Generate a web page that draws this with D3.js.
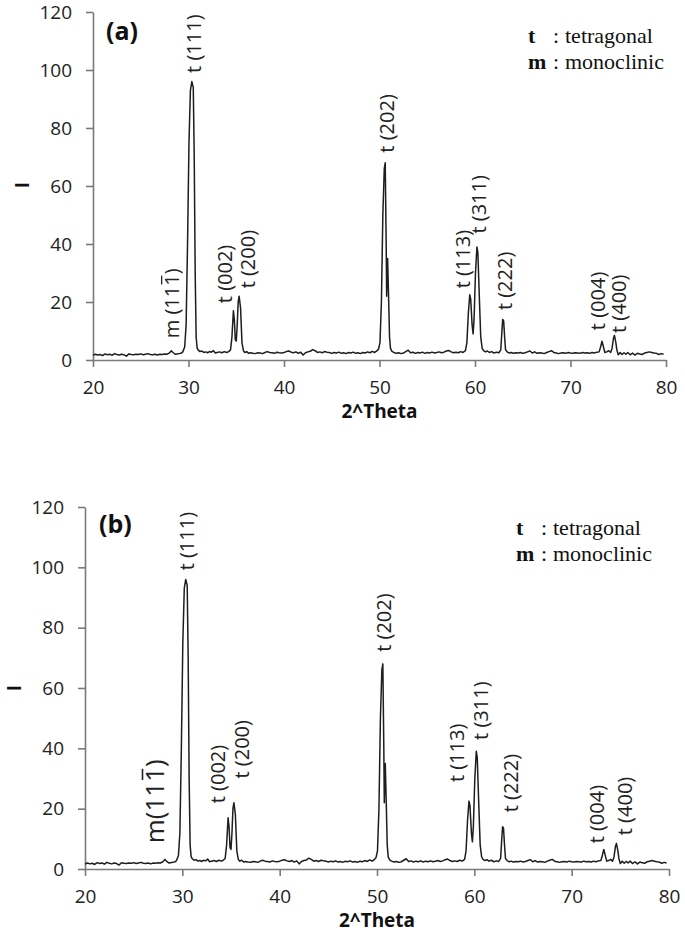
<!DOCTYPE html>
<html>
<head>
<meta charset="utf-8">
<script src="https://cdn.jsdelivr.net/npm/d3@7"></script>
<style>
  html, body { margin: 0; padding: 0; background: #fff; }
  svg { display: block; }
</style>
</head>
<body>
<script>
// ---------------- DATA ----------------
const twoTheta = [
  20.0,20.25,20.5,20.75,21.0,21.25,21.5,21.75,22.0,22.25,22.5,22.75,23.0,23.25,23.5,23.75,
  24.0,24.25,24.5,24.75,25.0,25.25,25.5,25.75,26.0,26.25,26.5,26.75,27.0,27.25,27.5,27.75,
  28.0,28.2,28.4,28.6,28.8,29.0,29.2,29.4,29.6,29.75,29.9,30.05,30.2,30.35,30.5,30.6,30.7,30.8,30.9,
  31.0,31.2,31.4,31.6,31.8,32.0,32.2,32.4,32.6,32.8,33.0,33.25,33.5,33.75,34.0,34.2,34.4,
  34.55,34.7,34.8,34.9,35.0,35.1,35.2,35.3,35.45,35.6,35.75,35.9,36.1,36.3,36.5,36.75,
  37.0,37.25,37.5,37.75,38.0,38.25,38.5,38.75,39.0,39.25,39.5,39.75,40.0,40.25,40.5,40.75,
  41.0,41.25,41.5,41.75,42.0,42.25,42.5,42.75,43.0,43.25,43.5,43.75,44.0,44.25,44.5,44.75,
  45.0,45.25,45.5,45.75,46.0,46.25,46.5,46.75,47.0,47.25,47.5,47.75,48.0,48.25,48.5,48.75,
  49.0,49.25,49.5,49.75,49.9,50.05,50.2,50.35,50.5,50.6,50.7,50.75,50.8,50.85,50.95,51.05,51.15,
  51.3,51.5,51.75,52.0,52.25,52.5,52.75,53.0,53.25,53.5,53.75,54.0,54.25,54.5,54.75,
  55.0,55.25,55.5,55.75,56.0,56.25,56.5,56.75,57.0,57.25,57.5,57.75,58.0,58.25,58.5,58.75,
  59.0,59.15,59.3,59.45,59.55,59.7,59.8,59.9,60.05,60.2,60.3,60.45,60.6,60.75,60.9,
  61.1,61.3,61.5,61.75,62.0,62.25,62.5,62.7,62.8,62.9,63.0,63.1,63.2,63.4,63.6,63.8,
  64.0,64.25,64.5,64.75,65.0,65.25,65.5,65.75,66.0,66.25,66.5,66.75,67.0,67.25,67.5,67.75,
  68.0,68.25,68.5,68.75,69.0,69.25,69.5,69.75,70.0,70.25,70.5,70.75,71.0,71.25,71.5,71.75,
  72.0,72.25,72.5,72.75,73.0,73.15,73.3,73.45,73.6,73.8,74.0,74.2,74.35,74.5,74.6,74.75,74.85,
  75.0,75.2,75.4,75.6,75.8,76.0,76.25,76.5,76.75,77.0,77.25,77.5,77.75,78.0,78.25,78.5,78.75,
  79.0,79.25,79.5,79.75
];
const intensity = [
  1.6,2.0,1.7,1.9,1.5,2.1,1.8,2.0,1.6,2.2,1.9,1.7,2.0,1.8,1.3,2.1,
  1.9,1.8,2.0,1.9,2.1,1.8,2.0,2.2,1.9,1.8,2.0,1.7,2.0,1.9,2.1,2.0,
  2.4,3.2,2.5,2.0,2.1,2.2,2.3,2.8,4.5,12,40,75,93,96,94,70,30,8,4.2,
  3.5,2.9,3.1,2.6,2.8,2.5,2.9,2.7,3.3,2.4,2.6,2.8,2.5,2.9,2.6,2.9,3.5,
  8,17,14,7,6.5,12,20,22,18,6,3.2,2.6,2.9,2.3,2.5,2.3,
  2.2,2.5,2.4,2.2,2.6,2.9,2.6,2.5,2.3,2.7,2.5,2.4,2.6,2.9,3.1,2.7,
  2.5,2.8,2.3,2.7,1.7,2.5,2.8,3.0,3.6,3.2,2.6,2.8,2.5,2.9,2.7,2.6,
  2.3,2.6,2.4,2.7,2.3,2.5,2.2,2.6,2.4,2.7,2.3,2.5,2.2,2.6,2.4,2.8,
  2.5,3.0,2.6,3.2,3.8,6,20,50,66,68,40,22,30,35,22,8,4,
  3.0,2.6,2.3,2.5,2.2,2.4,2.9,3.4,2.5,2.7,2.3,2.6,2.4,2.7,2.3,
  2.6,2.4,2.7,2.4,2.6,2.8,2.5,2.7,3.1,3.3,2.8,2.5,2.7,2.5,2.9,2.6,
  3.2,6,16,22.5,21,12,9,14,30,39,37,22,8,4,3.2,
  2.8,3.1,2.6,2.9,2.4,2.7,2.5,3.5,9,14,13.5,8,3.5,2.7,2.4,2.6,
  2.3,2.5,2.4,2.6,2.3,2.5,2.8,3.1,2.4,2.8,2.3,2.5,2.4,2.2,2.6,2.9,
  3.2,2.6,2.4,2.2,2.4,2.5,2.3,2.6,2.4,2.3,2.5,2.4,2.3,2.6,2.4,2.5,
  2.3,2.6,2.4,2.7,2.8,4.5,6.5,4.5,2.6,2.8,3.2,2.6,4,7.5,8.5,6,3.5,
  1.8,2.6,1.9,2.5,2.0,2.6,1.8,2.4,1.7,2.3,2.1,1.9,2.4,2.6,2.8,2.6,2.4,
  2.3,1.9,2.2,2.0
];
const xTicks = [20, 30, 40, 50, 60, 70, 80];
const yTicks = [0, 20, 40, 60, 80, 100, 120];

// peak annotations: [prefix, overlined part, suffix], 2theta, intensity where the rotated label starts
const peakLabelsA = [
  [["m (11", "1", ")"], 28.2, 7.5],
  [["t (111)", "", ""], 30.55, 99],
  [["t (002)", "", ""], 33.8, 19.6],
  [["t (200)", "", ""], 36.2, 24.7],
  [["t (202)", "", ""], 50.8, 71.5],
  [["t (113)", "", ""], 58.75, 24.7],
  [["t (311)", "", ""], 60.4, 43.6],
  [["t (222)", "", ""], 63.1, 17.2],
  [["t (004)", "", ""], 72.9, 10.3],
  [["t (400)", "", ""], 75.1, 9.3]
];
const peakLabelsB = [
  [["m(11", "1", ")"], 27.2, 8.5],
  [["t (111)", "", ""], 30.5, 99],
  [["t (002)", "", ""], 33.6, 21.8],
  [["t (200)", "", ""], 36.1, 30],
  [["t (202)", "", ""], 50.7, 72],
  [["t (113)", "", ""], 58.2, 28.8],
  [["t (311)", "", ""], 60.7, 42.8],
  [["t (222)", "", ""], 63.7, 18.8],
  [["t (004)", "", ""], 72.6, 8.5],
  [["t (400)", "", ""], 75.5, 11.2]
];
const legendKeys = ["t", "m"];
const legendNames = ["tetragonal", "monoclinic"];

// ---------------- DRAW ----------------
const W = 685, H = 942;
const svg = d3.select("body").append("svg").attr("width", W).attr("height", H);
svg.append("rect").attr("width", W).attr("height", H).attr("fill", "#fff");

const points = twoTheta.map((t, i) => [t, intensity[i]]);

const panels = [
  { tag: "(a)", x0: 93, x1: 666, y0: 360, y1: 12, labels: peakLabelsA,
    tagPos: [106, 40], legPos: [528, 43], legColon: 553, legText: 565,
    yTitle: [22, 185], xTitleY: 418, mSize: 20 },
  { tag: "(b)", x0: 85, x1: 669, y0: 869, y1: 507, labels: peakLabelsB,
    tagPos: [99, 533], legPos: [516, 535], legColon: 541, legText: 553,
    yTitle: [14, 688], xTitleY: 927, mSize: 26 }
];

const axisColor = "#7a7a7a";
const font = "'Open Sans', 'Liberation Sans', sans-serif";

panels.forEach(p => {
  const x = d3.scaleLinear().domain([20, 80]).range([p.x0, p.x1]);
  const y = d3.scaleLinear().domain([0, 120]).range([p.y0, p.y1]);
  const g = svg.append("g");

  // axes
  const xa = g.append("g").attr("transform", `translate(0,${p.y0})`)
    .call(d3.axisBottom(x).tickValues(xTicks).tickSize(7).tickSizeOuter(0).tickPadding(14));
  const ya = g.append("g").attr("transform", `translate(${p.x0},0)`)
    .call(d3.axisLeft(y).tickValues(yTicks).tickSize(7).tickSizeOuter(0).tickPadding(14));
  [xa, ya].forEach(a => {
    a.select(".domain").attr("stroke", axisColor).attr("stroke-width", 1.6);
    a.selectAll(".tick line").attr("stroke", axisColor).attr("stroke-width", 1.6);
    a.selectAll(".tick text").attr("fill", "#222").style("font-family", font).style("font-size", "19px");
  });
  xa.selectAll(".tick text").attr("dy", "0.71em");

  // line
  g.append("path").datum(points)
    .attr("fill", "none").attr("stroke", "#1e1e1e").attr("stroke-width", 1.5)
    .attr("stroke-linejoin", "round")
    .attr("d", d3.line().x(d => x(d[0])).y(d => y(d[1])));

  // peak labels
  p.labels.forEach((lab, i) => {
    const isM = i === 0;
    const fs = isM ? p.mSize : 20;
    const lg = g.append("g")
      .attr("transform", `translate(${x(lab[1])},${y(lab[2])}) rotate(-90)`);
    const t = lg.append("text")
      .attr("text-anchor", "start")
      .attr("dy", "0.36em")
      .attr("fill", "#222")
      .style("font-family", font)
      .style("font-size", fs + "px");
    const pre = t.append("tspan").text(lab[0][0]);
    if (lab[0][1]) {
      const mid = t.append("tspan").text(lab[0][1]);
      t.append("tspan").text(lab[0][2]);
      const x0 = pre.node().getComputedTextLength();
      const w = mid.node().getComputedTextLength();
      const by = 0.36 * fs - 0.714 * fs - 0.13 * fs;
      lg.append("line")
        .attr("x1", x0 + w * 0.12).attr("x2", x0 + w * 0.88)
        .attr("y1", by).attr("y2", by)
        .attr("stroke", "#222").attr("stroke-width", fs > 22 ? 1.6 : 1.3);
    }
  });

  // panel tag
  g.append("text").attr("x", p.tagPos[0]).attr("y", p.tagPos[1])
    .attr("fill", "#111").style("font-family", font).style("font-weight", "bold")
    .style("font-size", "25px").text(p.tag);

  // axis titles
  g.append("text").attr("x", (p.x0 + p.x1) / 2).attr("y", p.xTitleY)
    .attr("text-anchor", "middle").attr("fill", "#111")
    .style("font-family", font).style("font-weight", "bold").style("font-size", "19px")
    .text("2^Theta");
  g.append("text")
    .attr("transform", `translate(${p.yTitle[0]},${p.yTitle[1]}) rotate(-90)`)
    .attr("text-anchor", "middle").attr("dominant-baseline", "central")
    .attr("fill", "#111").style("font-family", font).style("font-weight", "bold").style("font-size", "19px")
    .text("I");

  // legend
  legendKeys.forEach((k, i) => {
    const ly = p.legPos[1] + i * 26;
    const t = g.append("text").attr("y", ly).attr("fill", "#111")
      .style("font-family", "'Liberation Serif', 'Times New Roman', serif").style("font-size", "22px");
    t.append("tspan").attr("x", p.legPos[0]).style("font-weight", "bold").text(k);
    t.append("tspan").attr("x", p.legColon).text(":");
    t.append("tspan").attr("x", p.legText).text(legendNames[i]);
  });
});
</script>
</body>
</html>
